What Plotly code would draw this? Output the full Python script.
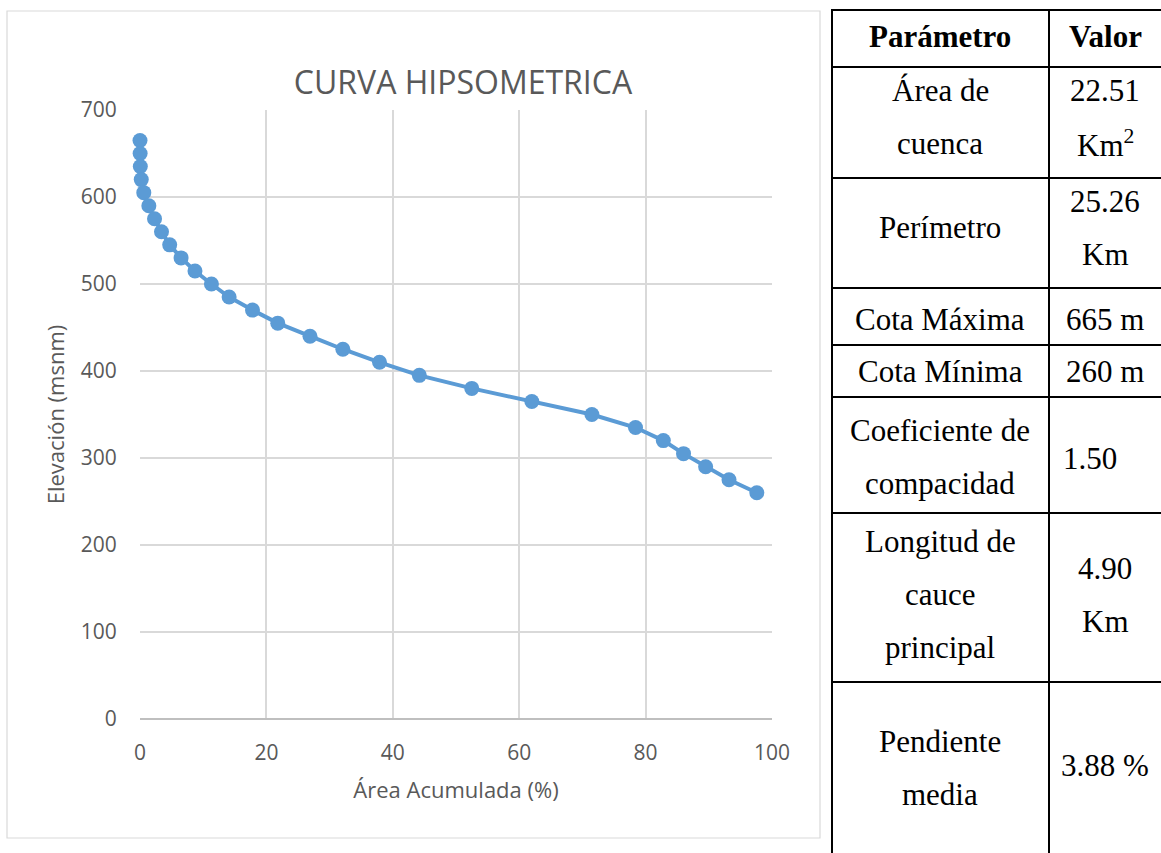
import plotly.graph_objects as go

# ---------------- data ----------------
area_acumulada = [0.0, 0.02, 0.05, 0.2, 0.6, 1.4, 2.3, 3.4, 4.7, 6.5, 8.7, 11.3, 14.1,
                  17.8, 21.8, 26.9, 32.1, 37.9, 44.2, 52.5, 62.0, 71.5, 78.4, 82.8,
                  86.0, 89.5, 93.2, 97.6]
elevacion = [665, 650, 635, 620, 605, 590, 575, 560, 545, 530, 515, 500, 485,
             470, 455, 440, 425, 410, 395, 380, 365, 350, 335, 320, 305, 290, 275, 260]

x_ticks = [0, 20, 40, 60, 80, 100]
y_ticks = [0, 100, 200, 300, 400, 500, 600, 700]

chart_title = "CURVA HIPSOMETRICA"
x_title = "Área Acumulada (%)"
y_title = "Elevación (msnm)"

table_header = ["Parámetro", "Valor"]
param_lines = [["Área de", "cuenca"], ["Perímetro"], ["Cota Máxima"], ["Cota Mínima"],
               ["Coeficiente de", "compacidad"], ["Longitud de", "cauce", "principal"],
               ["Pendiente", "media"]]
value_lines = [["22.51", "Km<sup>2</sup>"], ["25.26", "Km"], ["665 m"], ["260 m"],
               ["1.50"], ["4.90", "Km"], ["3.88 %"]]

# ---------------- layout helpers (pixel -> paper) ----------------
W, H = 1161, 853
def px(x):
    return x / W
def py(y):
    return 1 - y / H

GRID = "#D9D9D9"
TXT = "#595959"
BLUE = "#5B9BD5"
SANS = "Open Sans, Noto Sans, sans-serif"
SERIF = "Liberation Serif, Times New Roman, serif"

plot_l, plot_r, plot_t, plot_b = 140, 772, 110, 719

fig = go.Figure()
fig.add_trace(go.Scatter(
    x=area_acumulada, y=elevacion, mode="lines+markers",
    line=dict(color=BLUE, width=4),
    marker=dict(color=BLUE, size=15),
    showlegend=False, cliponaxis=False,
))

shapes = []
annotations = []

# chart outer border
shapes.append(dict(type="rect", xref="paper", yref="paper",
                   x0=px(7), x1=px(820), y0=py(838), y1=py(11),
                   line=dict(color=GRID, width=1.2), fillcolor="rgba(0,0,0,0)", layer="below"))

# ---------------- table ----------------
t_left, t_mid, t_right = 832, 1049, 1161
row_lines = [10, 67, 178, 288, 345, 397, 513, 682]
for yy in row_lines:
    shapes.append(dict(type="line", xref="paper", yref="paper",
                       x0=px(t_left - 1), x1=px(t_right + 2), y0=py(yy), y1=py(yy),
                       line=dict(color="black", width=2)))
for xx in (t_left, t_mid):
    shapes.append(dict(type="line", xref="paper", yref="paper",
                       x0=px(xx), x1=px(xx), y0=py(9), y1=py(H + 5),
                       line=dict(color="black", width=2)))

col1_c, col2_c = 940, 1105
fs = 31
lh = 53
annotations.append(dict(text="<b>%s</b>" % table_header[0], x=px(col1_c), y=py(36),
                        xref="paper", yref="paper", showarrow=False,
                        xanchor="center", yanchor="middle",
                        font=dict(family=SERIF, size=fs, color="black")))
annotations.append(dict(text="<b>%s</b>" % table_header[1], x=px(col2_c), y=py(36),
                        xref="paper", yref="paper", showarrow=False,
                        xanchor="center", yanchor="middle",
                        font=dict(family=SERIF, size=fs, color="black")))

param_centers = [117, 228, 319, 371, 457, 594, 768]
value_centers = [117, 228, 319, 371, 459, 595, 765]
value_anchor = ["center", "center", "center", "center", "left", "center", "center"]
for i, lines in enumerate(param_lines):
    n = len(lines)
    for j, s in enumerate(lines):
        yy = param_centers[i] + (j - (n - 1) / 2) * lh
        annotations.append(dict(text=s, x=px(col1_c), y=py(yy), xref="paper", yref="paper",
                                showarrow=False, xanchor="center", yanchor="middle",
                                font=dict(family=SERIF, size=fs, color="black")))
for i, lines in enumerate(value_lines):
    n = len(lines)
    for j, s in enumerate(lines):
        yy = value_centers[i] + (j - (n - 1) / 2) * lh
        xa = value_anchor[i]
        xx = col2_c if xa == "center" else 1061
        annotations.append(dict(text=s, x=px(xx), y=py(yy), xref="paper", yref="paper",
                                showarrow=False, xanchor=xa, yanchor="middle",
                                font=dict(family=SERIF, size=fs, color="black")))

fig.update_layout(
    width=W, height=H,
    margin=dict(l=0, r=0, t=0, b=0),
    paper_bgcolor="white", plot_bgcolor="white",
    title=dict(text=chart_title, x=px(463), y=py(83), xanchor="center", yanchor="middle",
               xref="paper", yref="paper",
               font=dict(family=SANS, size=32, color=TXT)),
    xaxis=dict(domain=[px(plot_l), px(plot_r)], range=[0, 100], tickvals=x_ticks,
               showgrid=True, gridcolor=GRID, gridwidth=1.5, zeroline=False,
               showline=False, ticks="outside", ticklen=15, tickcolor="rgba(0,0,0,0)",
               tickfont=dict(family=SANS, size=21, color=TXT),
               title=dict(text=x_title, font=dict(family=SANS, size=22, color=TXT), standoff=17),
               automargin=False, fixedrange=True),
    yaxis=dict(domain=[py(plot_b), py(plot_t)], range=[0, 700], tickvals=y_ticks,
               showgrid=True, gridcolor=GRID, gridwidth=1.5,
               zeroline=True, zerolinecolor="#BFBFBF", zerolinewidth=1.5,
               showline=False, ticks="outside", ticklen=18, tickcolor="rgba(0,0,0,0)",
               tickfont=dict(family=SANS, size=21, color=TXT),
               title=dict(text=y_title, font=dict(family=SANS, size=22, color=TXT), standoff=10),
               automargin=False, fixedrange=True),
    shapes=shapes,
    annotations=annotations,
)

fig.write_html("out.html", config={"displayModeBar": False},
               post_script="document.body.style.margin='0';")
